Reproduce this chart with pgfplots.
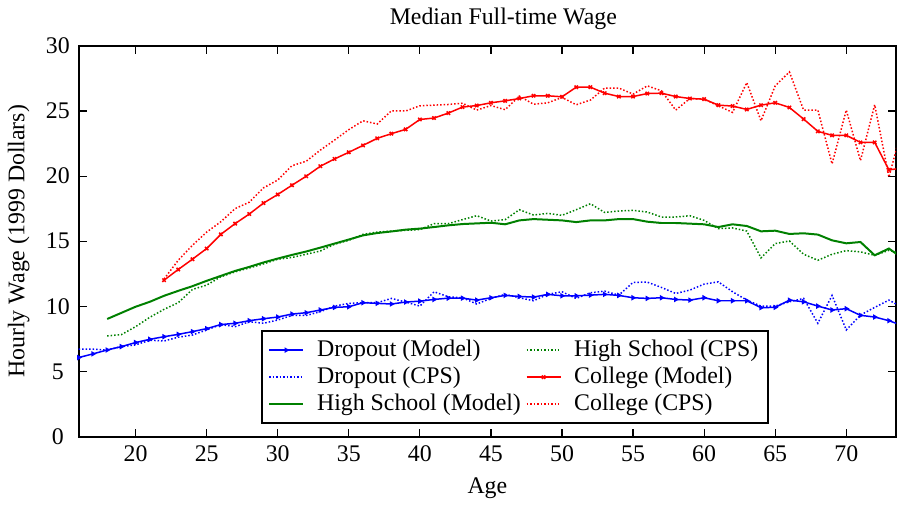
\documentclass[12pt,border=0pt]{standalone}
\usepackage{fontspec}
\setmainfont{Liberation Serif}
\usepackage{pgfplots}
\pgfplotsset{compat=1.18}
\usepackage{pgfplotstable}

\pgfplotstableread{
age w
16 6.07
17 6.35
18 6.65
19 6.91
20 7.22
21 7.47
22 7.67
23 7.85
24 8.06
25 8.29
26 8.60
27 8.70
28 8.90
29 9.05
30 9.18
31 9.41
32 9.51
33 9.72
34 9.92
35 9.97
36 10.28
37 10.23
38 10.18
39 10.33
40 10.40
41 10.53
42 10.63
43 10.63
44 10.48
45 10.66
46 10.84
47 10.76
48 10.71
49 10.92
50 10.81
51 10.81
52 10.86
53 10.92
54 10.84
55 10.66
56 10.61
57 10.66
58 10.53
59 10.48
60 10.66
61 10.43
62 10.43
63 10.43
64 9.90
65 9.92
66 10.48
67 10.35
68 10.02
69 9.72
70 9.82
71 9.31
72 9.18
73 8.90
74 8.50
}\dropm

\pgfplotstableread{
age w
16 6.71
17 6.71
18 6.65
19 6.91
20 7.04
21 7.40
22 7.34
23 7.63
24 7.80
25 8.19
26 8.60
27 8.44
28 8.82
29 8.70
30 8.95
31 9.30
32 9.30
33 9.59
34 10.02
35 10.23
36 10.28
37 10.28
38 10.61
39 10.33
40 10.02
41 11.12
42 10.73
43 10.66
44 10.18
45 10.61
46 10.92
47 10.66
48 10.43
49 10.92
50 11.12
51 10.61
52 11.04
53 11.17
54 10.86
55 11.84
56 11.86
57 11.45
58 10.99
59 11.25
60 11.71
61 11.88
62 11.12
63 10.48
64 10.02
65 10.02
66 10.35
67 10.61
68 8.70
69 10.84
70 8.19
71 9.33
72 9.92
73 10.48
74 9.88
}\dropc

\pgfplotstableread{
age w
18 9.03
19 9.50
20 9.97
21 10.35
22 10.81
23 11.19
24 11.55
25 11.96
26 12.34
27 12.72
28 13.03
29 13.37
30 13.67
31 13.95
32 14.21
33 14.51
34 14.82
35 15.13
36 15.45
37 15.63
38 15.75
39 15.89
40 15.97
41 16.09
42 16.22
43 16.32
44 16.37
45 16.42
46 16.30
47 16.60
48 16.70
49 16.65
50 16.60
51 16.47
52 16.60
53 16.60
54 16.70
55 16.70
56 16.50
57 16.40
58 16.40
59 16.35
60 16.30
61 16.09
62 16.30
63 16.17
64 15.76
65 15.81
66 15.56
67 15.61
68 15.51
69 15.07
70 14.84
71 14.94
72 13.92
73 14.44
74 13.66
}\hsm

\pgfplotstableread{
age w
18 7.73
19 7.83
20 8.44
21 9.16
22 9.77
23 10.28
24 11.30
25 11.63
26 12.27
27 12.65
28 12.95
29 13.26
30 13.62
31 13.75
32 14.00
33 14.25
34 14.77
35 15.07
36 15.53
37 15.70
38 15.78
39 15.84
40 15.89
41 16.35
42 16.35
43 16.66
44 16.96
45 16.55
46 16.66
47 17.42
48 17.01
49 17.14
50 16.99
51 17.42
52 17.88
53 17.21
54 17.32
55 17.37
56 17.24
57 16.86
58 16.86
59 16.96
60 16.60
61 15.97
62 16.02
63 15.78
64 13.72
65 14.82
66 15.02
67 14.00
68 13.54
69 14.00
70 14.28
71 14.18
72 13.92
73 14.30
74 14.00
}\hsc

\pgfplotstableread{
age w
22 12.01
23 12.83
24 13.62
25 14.44
26 15.53
27 16.35
28 17.09
29 17.93
30 18.59
31 19.30
32 19.99
33 20.76
34 21.32
35 21.83
36 22.36
37 22.90
38 23.26
39 23.59
40 24.35
41 24.46
42 24.84
43 25.30
44 25.42
45 25.63
46 25.78
47 25.96
48 26.17
49 26.17
50 26.09
51 26.83
52 26.83
53 26.37
54 26.11
55 26.11
56 26.34
57 26.37
58 26.11
59 25.96
60 25.91
61 25.45
62 25.38
63 25.12
64 25.45
65 25.63
66 25.27
67 24.38
68 23.44
69 23.13
70 23.13
71 22.59
72 22.59
73 20.48
74 20.62
}\colm

\pgfplotstableread{
age w
22 12.10
23 13.54
24 14.69
25 15.70
26 16.50
27 17.50
28 18.00
29 19.10
30 19.70
31 20.80
32 21.14
33 22.00
34 22.77
35 23.57
36 24.25
37 24.00
38 25.02
39 25.00
40 25.40
41 25.45
42 25.50
43 25.60
44 25.07
45 25.42
46 25.10
47 26.14
48 25.52
49 25.63
50 26.04
51 25.48
52 25.84
53 26.76
54 26.76
55 26.30
56 26.93
57 26.55
58 25.07
59 25.96
60 25.91
61 25.40
62 24.89
63 27.18
64 24.25
65 26.93
66 28.00
67 25.07
68 25.07
69 20.94
70 25.07
71 21.19
72 25.48
73 19.92
74 24.00
}\colc

\definecolor{dblue}{RGB}{0,0,255}
\definecolor{dgreen}{RGB}{0,128,0}
\definecolor{dred}{RGB}{255,0,0}

\begin{document}
\begin{tikzpicture}
\begin{axis}[
  scale only axis, width=410bp, height=196bp,
  xmin=16, xmax=73.5, ymin=0, ymax=30,
  xtick={20,25,...,70}, ytick={0,5,...,30},
  tick align=inside,
  axis line style={line width=1bp},
  major tick style={line width=0.6bp, black},
  major tick length=4bp,
  /pgf/number format/assume math mode=true,
  xticklabel style={anchor=center, yshift=-8.7bp},
  yticklabel style={anchor=center, xshift=-10.5bp},
  title={Median Full-time Wage},
  title style={xshift=8bp, yshift=-2bp},
  xlabel={Age}, ylabel={Hourly Wage (1999 Dollars)},
  legend style={at={(0.5341,0.0316)}, anchor=south, draw=black, line width=1bp,
    column sep=4.5bp, inner xsep=3bp, inner ysep=2.5bp, row sep=-0.5bp,
    /tikz/every even column/.append style={column sep=0.5bp}},
  legend columns=2,
  legend cell align=left,
  legend image code/.code={%
    \draw[mark repeat=2,mark phase=2,#1] plot coordinates {(0.25cm,0cm) (0.55cm,0cm) (0.85cm,0cm)};},
  every axis plot/.append style={line width=0.75bp},
]
\addplot[dblue, mark=triangle*, mark size=0.9pt, mark options={rotate=-90}] table[x=age,y=w] {\dropm};
\addlegendentry{Dropout (Model)}
\addplot[dgreen, densely dotted] table[x=age,y=w] {\hsc};
\addlegendentry{High School (CPS)}
\addplot[dblue, densely dotted] table[x=age,y=w] {\dropc};
\addlegendentry{Dropout (CPS)}
\addplot[dred, mark=x, mark size=1.2pt] table[x=age,y=w] {\colm};
\addlegendentry{College (Model)}
\addplot[dgreen, line width=1bp] table[x=age,y=w] {\hsm};
\addlegendentry{High School (Model)}
\addplot[dred, densely dotted] table[x=age,y=w] {\colc};
\addlegendentry{College (CPS)}
\end{axis}
\end{tikzpicture}
\end{document}
